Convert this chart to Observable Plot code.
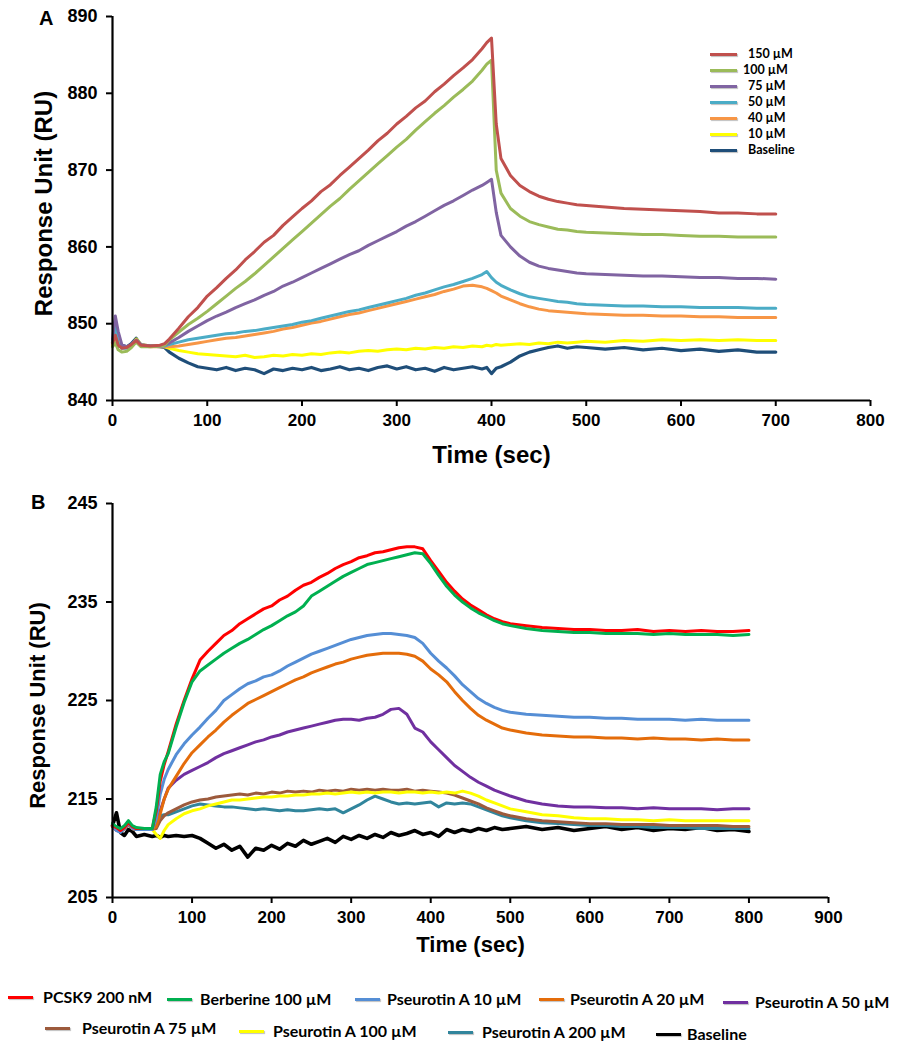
<!DOCTYPE html>
<html>
<head>
<meta charset="utf-8">
<script src="https://cdn.jsdelivr.net/npm/d3@7"></script>
<script src="https://cdn.jsdelivr.net/npm/@observablehq/plot@0.6"></script>
<style>
  html, body { margin: 0; padding: 0; background: #fff; }
  #wrap { position: relative; width: 906px; height: 1050px; overflow: hidden; font-family: "Liberation Sans", Arial, sans-serif; }
  .tag { position: absolute; font-family: "Liberation Sans", Arial, sans-serif; font-weight: bold; font-size: 20px; color: #000; line-height: 1; z-index: 5; }
  .lgA { position: absolute; font-family: Lato, "Noto Sans", sans-serif; font-weight: bold; font-size: 12.5px; color: #000; white-space: nowrap; line-height: 1; }
  .lgB { position: absolute; font-family: Lato, "Noto Sans", sans-serif; font-weight: bold; font-size: 16px; color: #000; white-space: nowrap; line-height: 1; }
  .sw { position: absolute; height: 3px; box-shadow: 1px 1px 1px rgba(0,0,0,0.25); }
</style>
</head>
<body>
<div id="wrap"></div>
<script>
// ---------------- Panel A data ----------------
const timeA = [0,3,6,10,15,20,25,30,40,50,55,
  60,70,80,90,100,110,120,130,140,150,160,170,180,190,200,210,220,230,240,250,260,270,280,290,300,310,320,330,340,350,360,370,380,390,
  395,400,405,410,
  420,430,440,450,460,470,480,490,500,
  520,540,560,580,600,620,640,660,680,700];

const seriesA = ["150 µM","100 µM","75 µM","50 µM","40 µM","10 µM","Baseline"];
const coloursA = ["#C0504D","#9BBB59","#8064A2","#4BACC6","#F79646","#FFFF00","#1F4E79"];

const a150 = [847.5,848.5,847.2,846.8,846.9,847.3,847.8,847.2,847.1,847.2,847.4,
  848.0,849.4,850.9,852.1,853.6,854.7,855.9,857.0,858.3,859.4,860.6,861.5,862.8,863.9,865.0,866.0,867.2,868.1,869.3,870.4,871.5,872.6,873.8,874.8,876.0,877.0,878.1,879.0,880.2,881.2,882.3,883.3,884.4,885.8,
  886.6,887.2,876.0,871.5,
  869.3,868.0,867.2,866.6,866.2,865.9,865.7,865.5,865.4,
  865.2,865.0,864.9,864.8,864.7,864.6,864.4,864.4,864.3,864.3];
const a100 = [847.0,847.5,846.6,846.3,846.4,846.9,847.6,847.0,847.0,847.1,847.2,
  847.9,848.9,849.9,850.7,851.6,852.6,853.6,854.6,855.5,856.5,857.6,858.7,859.8,860.9,862.0,863.1,864.2,865.3,866.3,867.5,868.6,869.7,870.8,871.9,873.0,874.0,875.2,876.3,877.4,878.4,879.5,880.5,881.6,883.0,
  883.8,884.3,870.0,867.0,
  865.0,864.0,863.3,862.9,862.6,862.3,862.2,862.0,861.9,
  861.8,861.7,861.6,861.6,861.5,861.4,861.4,861.3,861.3,861.3];
const a75 = [848.0,851.0,849.0,847.2,847.0,847.3,847.9,847.3,847.1,847.1,847.2,
  847.5,848.2,849.0,849.7,850.4,851.0,851.5,852.1,852.6,853.1,853.7,854.2,854.9,855.4,856.0,856.6,857.2,857.8,858.4,859.0,859.5,860.2,860.8,861.4,862.0,862.7,863.3,864.0,864.7,865.4,866.0,866.7,867.4,868.0,
  868.4,868.8,864.5,861.5,
  860.0,858.8,858.0,857.5,857.2,857.0,856.8,856.6,856.5,
  856.4,856.3,856.2,856.2,856.1,856.0,856.0,855.9,855.9,855.8];
const a50 = [847.5,849.5,847.5,846.8,846.8,847.1,847.8,847.2,847.1,847.1,847.1,
  847.3,847.6,847.9,848.1,848.3,848.5,848.7,848.8,849.0,849.1,849.3,849.5,849.7,849.9,850.2,850.4,850.7,851.0,851.3,851.6,851.8,852.1,852.4,852.7,853.0,853.3,853.7,854.0,854.4,854.8,855.1,855.5,855.9,856.4,
  856.8,856.0,855.4,855.0,
  854.4,853.9,853.5,853.3,853.1,852.9,852.8,852.6,852.5,
  852.4,852.3,852.3,852.2,852.2,852.1,852.1,852.1,852.0,852.0];
const a40 = [847.3,848.8,847.3,846.9,846.9,847.0,847.7,847.1,847.0,847.0,847.0,
  847.0,847.1,847.3,847.5,847.7,847.9,848.1,848.2,848.4,848.6,848.8,849.0,849.3,849.5,849.8,850.1,850.3,850.6,850.9,851.2,851.4,851.7,852.0,852.3,852.6,852.9,853.2,853.5,853.8,854.2,854.5,854.9,855.0,854.8,
  854.6,854.3,854.0,853.6,
  853.1,852.6,852.2,851.9,851.7,851.6,851.5,851.4,851.3,
  851.2,851.1,851.1,851.0,851.0,850.9,850.9,850.8,850.8,850.8];
const a10 = [847.2,848.3,847.8,847.0,846.9,847.2,848.0,847.3,847.1,847.1,847.0,
  846.8,846.5,846.3,846.1,846.0,845.9,845.8,845.7,845.9,845.6,845.7,845.9,845.8,846.0,845.9,846.1,846.0,846.2,846.3,846.2,846.4,846.5,846.4,846.6,846.7,846.6,846.8,846.7,846.9,846.8,847.0,846.9,847.1,847.0,
  847.2,847.1,847.3,847.2,
  847.3,847.4,847.3,847.5,847.4,847.6,847.5,847.6,847.7,
  847.6,847.8,847.7,847.9,847.8,847.9,847.8,847.9,847.8,847.8];
const aBase = [847.5,849.2,847.0,847.2,847.0,847.4,848.1,847.2,847.1,847.0,846.9,
  846.3,845.5,844.9,844.4,844.2,844.0,844.3,843.9,844.2,844.0,843.5,844.1,843.9,844.2,844.0,844.3,843.9,844.1,844.4,844.0,844.2,843.9,844.3,844.5,844.1,844.4,844.0,844.2,843.8,844.3,844.0,844.2,844.4,844.1,
  844.3,843.5,844.2,844.4,
  845.0,845.8,846.3,846.6,846.9,847.1,846.8,847.0,846.9,
  846.7,846.9,846.6,846.8,846.5,846.7,846.4,846.6,846.3,846.3];
const valuesA = [a150,a100,a75,a50,a40,a10,aBase];
const xTicksA = [0,100,200,300,400,500,600,700,800];
const yTicksA = [840,850,860,870,880,890];

// ---------------- Panel B data ----------------
const timeB = [0,5,10,15,20,25,30,40,50,55,60,65,
  70,80,90,100,110,120,130,140,150,160,
  170,180,190,200,210,220,230,240,250,260,
  270,280,290,300,310,320,330,340,350,360,
  370,380,390,400,410,420,430,440,450,460,
  470,480,490,500,
  520,540,560,580,600,620,640,660,680,700,720,740,760,780,800];

const seriesB = ["PCSK9 200 nM","Berberine 100 µM","Pseurotin A 10 µM","Pseurotin A 20 µM","Pseurotin A 50 µM",
  "Pseurotin A 75 µM","Pseurotin A 100 µM","Pseurotin A 200 µM","Baseline"];
const coloursB = ["#FF0000","#00B050","#558ED5","#E46C0A","#7030A0","#9C5A3C","#FFFF00","#31859C","#000000"];

const bPcsk9 = [212.3,212.1,211.8,212.1,212.6,212.2,212.0,212.0,212.0,213.8,216.8,218.5,
  219.8,222.6,225.0,227.2,229.1,230.0,230.8,231.6,232.1,232.8,
  233.3,233.8,234.3,234.6,235.2,235.6,236.2,236.7,237.0,237.5,
  237.9,238.4,238.8,239.1,239.5,239.7,240.0,240.1,240.3,240.5,
  240.6,240.6,240.4,239.2,238.1,237.0,236.1,235.3,234.7,234.2,
  233.7,233.3,233.0,232.8,
  232.6,232.4,232.3,232.2,232.2,232.1,232.1,232.2,232.0,232.1,232.0,232.1,232.0,232.0,232.1];
const bBerb = [212.5,212.2,212.0,212.3,212.8,212.3,212.1,212.0,212.0,214.2,217.5,218.8,
  219.6,222.3,224.8,226.9,228.0,228.6,229.2,229.8,230.3,230.8,
  231.2,231.7,232.2,232.6,233.1,233.6,234.0,234.6,235.6,236.1,
  236.6,237.1,237.6,238.0,238.4,238.8,239.0,239.2,239.4,239.6,
  239.8,240.0,239.9,238.9,237.7,236.6,235.7,235.0,234.4,233.9,
  233.5,233.1,232.8,232.6,
  232.3,232.1,232.0,231.9,231.9,231.8,231.8,231.8,231.7,231.8,231.7,231.7,231.7,231.6,231.7];
const bP10 = [212.3,211.8,211.6,212.0,212.5,212.0,211.9,211.9,211.9,213.0,215.5,217.0,
  218.0,219.5,220.6,221.5,222.3,223.2,224.0,225.0,225.6,226.2,
  226.7,227.0,227.4,227.6,228.0,228.5,228.9,229.3,229.7,230.0,
  230.3,230.6,230.9,231.2,231.4,231.6,231.7,231.8,231.8,231.7,
  231.6,231.4,230.8,229.8,229.0,228.3,227.5,226.6,225.9,225.2,
  224.7,224.3,224.0,223.8,
  223.6,223.5,223.4,223.3,223.3,223.2,223.2,223.1,223.1,223.1,223.0,223.1,223.0,223.0,223.0];
const bP20 = [212.2,211.9,211.7,212.0,212.4,212.0,211.9,211.9,211.9,212.2,213.5,215.0,
  216.0,217.3,218.6,219.7,220.5,221.3,222.0,222.8,223.5,224.1,
  224.7,225.1,225.5,225.9,226.3,226.7,227.1,227.4,227.8,228.1,
  228.4,228.7,228.9,229.2,229.4,229.6,229.7,229.8,229.8,229.8,
  229.7,229.5,229.0,228.2,227.6,226.9,225.9,225.0,224.2,223.5,
  223.0,222.6,222.2,222.0,
  221.7,221.5,221.4,221.3,221.3,221.2,221.2,221.1,221.2,221.1,221.1,221.0,221.1,221.0,221.0];
const bP50 = [212.2,211.8,211.7,212.0,212.4,212.0,211.9,211.9,211.9,212.3,213.8,215.0,
  216.1,216.9,217.5,217.9,218.3,218.7,219.2,219.6,219.9,220.2,
  220.5,220.8,221.0,221.3,221.5,221.8,222.0,222.2,222.4,222.6,
  222.8,223.0,223.1,223.1,223.0,223.2,223.3,223.6,224.1,224.2,
  223.6,222.2,221.8,220.8,220.0,219.2,218.4,217.8,217.2,216.7,
  216.3,215.9,215.6,215.3,
  214.8,214.5,214.3,214.2,214.2,214.1,214.1,214.0,214.1,214.0,214.0,214.0,213.9,214.0,214.0];
const bP75 = [212.2,211.9,211.7,212.0,212.4,212.0,211.9,211.9,211.9,212.0,212.8,213.3,
  213.6,214.0,214.4,214.7,214.9,215.0,215.2,215.3,215.4,215.5,
  215.4,215.6,215.5,215.7,215.6,215.8,215.7,215.8,215.7,215.9,
  215.8,215.9,215.8,216.0,215.9,216.0,215.9,216.0,215.9,215.9,
  216.0,215.8,215.9,215.8,215.7,215.6,215.4,215.1,214.8,214.5,
  214.1,213.8,213.5,213.3,
  213.0,212.8,212.7,212.6,212.5,212.5,212.4,212.4,212.4,212.3,212.3,212.3,212.3,212.2,212.2];
const bP100 = [212.2,211.9,211.7,212.0,212.4,212.0,211.9,211.9,211.9,211.4,211.0,211.8,
  212.4,213.0,213.5,213.8,214.0,214.3,214.5,214.7,214.9,214.9,
  215.0,215.1,215.2,215.2,215.3,215.3,215.4,215.4,215.5,215.5,
  215.6,215.5,215.6,215.7,215.6,215.7,215.6,215.7,215.7,215.6,
  215.7,215.7,215.6,215.7,215.6,215.7,215.6,215.8,215.6,215.3,
  214.9,214.6,214.3,214.0,
  213.7,213.4,213.3,213.1,213.0,213.0,212.9,212.9,212.8,212.9,212.8,212.8,212.8,212.8,212.8];
const bP200 = [212.2,211.9,211.7,212.0,212.4,212.0,211.9,211.9,211.9,212.5,213.3,213.4,
  213.4,213.7,214.0,214.3,214.5,214.4,214.3,214.2,214.2,214.1,
  214.0,213.9,214.0,213.9,213.8,213.9,213.8,213.8,213.9,214.0,
  213.9,214.0,213.6,214.0,214.4,214.9,215.3,215.0,214.7,214.5,
  214.6,214.5,214.6,214.7,214.2,214.6,214.5,214.6,214.5,214.2,
  213.9,213.6,213.3,213.1,
  212.8,212.6,212.5,212.4,212.3,212.3,212.2,212.2,212.1,212.1,212.1,212.0,212.0,212.0,212.0];
const bBase = [212.3,213.6,211.6,211.3,211.9,211.7,211.2,211.4,211.2,211.3,211.1,211.3,
  211.2,211.3,211.2,211.3,211.0,210.5,210.0,210.4,209.8,210.2,
  209.1,210.0,209.8,210.3,209.9,210.5,210.2,210.8,210.4,210.7,
  211.0,210.6,211.2,210.9,211.3,211.0,211.4,211.1,211.6,211.3,
  211.5,211.8,211.4,211.6,211.2,211.9,211.6,211.9,211.7,212.0,
  211.8,212.1,211.9,212.0,
  212.2,211.9,212.1,211.8,212.0,212.2,211.9,212.1,211.8,212.0,211.9,212.1,211.8,211.9,211.7];
const valuesB = [bPcsk9,bBerb,bP10,bP20,bP50,bP75,bP100,bP200,bBase];
const xTicksB = [0,100,200,300,400,500,600,700,800,900];
const yTicksB = [205,215,225,235,245];

// ---------------- build ----------------
const FONT = "'Liberation Sans', Arial, Helvetica, sans-serif";
function tidy(series, times, values, order) {
  const rows = [];
  for (const i of order) {
    values[i].forEach((v, j) => rows.push({series: series[i], t: times[j], v}));
  }
  return rows;
}
const rowsA = tidy(seriesA, timeA, valuesA, [6,5,4,3,2,1,0]);
const rowsB = tidy(seriesB, timeB, valuesB, [8,7,5,6,4,3,2,0,1]);

function makePanel({rows, series, colours, xDomain, yDomain, xTicks, yTicks, width, height, mt, mr, mb, ml, yLabelDx, yLabelDy, yLabelSize, xLabelDy, xLabelSize, baseWidth}) {
  const isBase = d => d.series === "Baseline";
  return Plot.plot({
    width, height,
    marginTop: mt, marginRight: mr, marginBottom: mb, marginLeft: ml,
    style: {fontFamily: FONT, fontSize: "18px", fontWeight: "bold", color: "#000", background: "transparent", overflow: "visible"},
    x: {domain: xDomain},
    y: {domain: yDomain},
    color: {domain: series, range: colours},
    marks: [
      Plot.line(rows.filter(isBase), {x: "t", y: "v", z: "series", stroke: "series", strokeWidth: baseWidth, strokeLinejoin: "round", strokeLinecap: "round"}),
      Plot.line(rows.filter(d => !isBase(d)), {x: "t", y: "v", z: "series", stroke: "series", strokeWidth: 3, strokeLinejoin: "round", strokeLinecap: "round"}),
      Plot.ruleX([xDomain[0]], {stroke: "#000", strokeWidth: 2.2}),
      Plot.ruleY([yDomain[0]], {stroke: "#000", strokeWidth: 2.2}),
      Plot.axisY({ticks: yTicks, tickSize: 6, tickPadding: 9, strokeWidth: 2, label: null, fontSize: 18, fontWeight: "bold", fontFamily: FONT}),
      Plot.axisX({ticks: xTicks, tickSize: 6, tickPadding: 7, strokeWidth: 2, label: null, fontSize: 17, fontWeight: "bold", fontFamily: FONT}),
      Plot.text(["Time (sec)"], {text: d => d, frameAnchor: "bottom", textAnchor: "middle", lineAnchor: "middle", dy: xLabelDy, fontSize: xLabelSize, fontWeight: "bold", fontFamily: FONT}),
      Plot.text(["Response Unit (RU)"], {text: d => d, frameAnchor: "left", textAnchor: "middle", lineAnchor: "middle", dx: yLabelDx, dy: yLabelDy, rotate: -90, fontSize: yLabelSize, fontWeight: "bold", fontFamily: FONT})
    ]
  });
}

const wrap = document.getElementById("wrap");

const svgA = makePanel({rows: rowsA, series: seriesA, colours: coloursA, xDomain: [0, 800], yDomain: [840, 890],
  xTicks: xTicksA, yTicks: yTicksA, width: 906, height: 470, mt: 16, mr: 36, mb: 70, ml: 112,
  yLabelDx: -68, yLabelDy: -5, yLabelSize: 24, xLabelDy: 55, xLabelSize: 24, baseWidth: 3.2});
svgA.style.position = "absolute"; svgA.style.left = "0px"; svgA.style.top = "0px";
wrap.appendChild(svgA);

const svgB = makePanel({rows: rowsB, series: seriesB, colours: coloursB, xDomain: [0, 900], yDomain: [205, 245],
  xTicks: xTicksB, yTicks: yTicksB, width: 906, height: 490, mt: 33, mr: 78, mb: 63, ml: 112,
  yLabelDx: -75, yLabelDy: 5, yLabelSize: 22, xLabelDy: 47, xLabelSize: 22, baseWidth: 3.6});
svgB.style.position = "absolute"; svgB.style.left = "0px"; svgB.style.top = "470px";
wrap.appendChild(svgB);

// panel tags
function addDiv(cls, text, left, top) {
  const d = document.createElement("div");
  d.className = cls; d.textContent = text;
  d.style.left = left + "px"; d.style.top = top + "px";
  wrap.appendChild(d);
  return d;
}
addDiv("tag", "A", 39, 8);
addDiv("tag", "B", 31, 492);

// Panel A inset legend
seriesA.forEach((s, i) => {
  const cy = 54 + i * 16.1;
  const sw = addDiv("sw", "", 710, cy - 1.5);
  sw.style.width = "27px"; sw.style.background = coloursA[i];
  addDiv("lgA", s, i === 1 ? 743 : 748, cy - 6.5);
});

// Panel B bottom legend (layout positions only)
const legendLayoutB = [
  {sx: 8, tx: 43, cy: 997}, {sx: 167, tx: 200, cy: 999}, {sx: 355, tx: 387, cy: 999},
  {sx: 539, tx: 570, cy: 999}, {sx: 723, tx: 755, cy: 1002},
  {sx: 45, tx: 82, cy: 1028}, {sx: 239, tx: 273, cy: 1031}, {sx: 448, tx: 482, cy: 1032}, {sx: 656, tx: 687, cy: 1034}
];
seriesB.forEach((s, i) => {
  const L = legendLayoutB[i];
  const sw = addDiv("sw", "", L.sx, L.cy - 1.5);
  sw.style.width = "25px"; sw.style.background = coloursB[i];
  addDiv("lgB", s, L.tx, L.cy - 8);
});
</script>
</body>
</html>
